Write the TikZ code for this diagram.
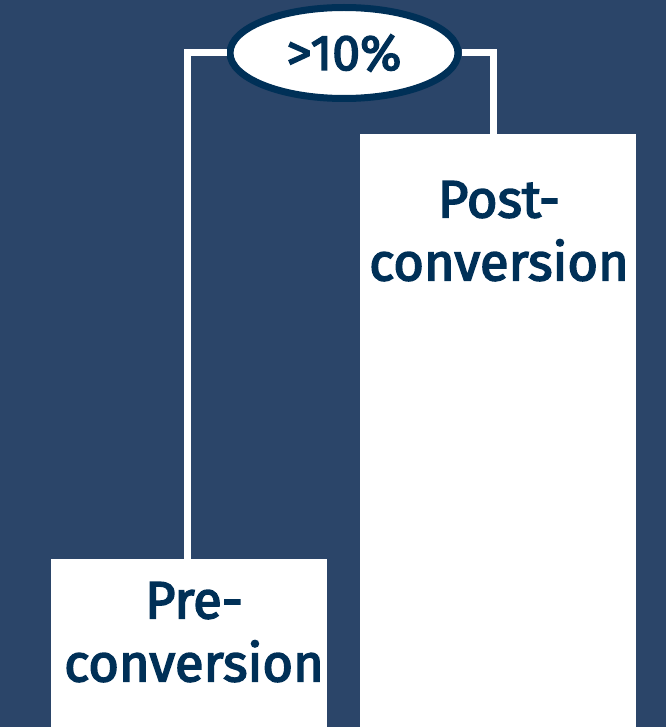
\documentclass[tikz,border=0pt]{standalone}
\usepackage{fontspec}
\setmainfont{Fira Sans}
\newfontfamily\labelfont[FakeBold=3]{Fira Sans}
\usetikzlibrary{shapes.geometric}

\definecolor{bgblue}{RGB}{43,69,105}
\definecolor{navy}{RGB}{0,48,87}

\tikzset{
  bar/.style={fill=white, draw=none, inner sep=0pt, anchor=south},
  barlabel/.style={text=navy, align=center, anchor=north, inner sep=0pt,
    font=\labelfont\fontsize{52.5}{63}\selectfont},
  link/.style={draw=white, line width=7pt},
}

\begin{document}
\begin{tikzpicture}[x=1pt, y=-1pt]

\fill[bgblue] (0,0) rectangle (666,727);
\useasboundingbox (0,0) rectangle (666,727);

%% Bars
\node [bar, minimum width=276pt, minimum height=168pt] (pre) at (189,727) {};
\node [bar, minimum width=276pt, minimum height=593pt] (post) at (498,727) {};

%% Bar labels
\node [barlabel] (prelabel) at (194,582) {Pre-\\conversion};
\node [barlabel] (postlabel) at (499,181) {Post-\\conversion};

%% Difference
\node [ellipse, draw=navy, fill=white, line width=7pt, inner sep=0pt,
  minimum width=228pt, minimum height=91pt, text=navy,
  font=\labelfont\fontsize{50}{50}\selectfont] (gap) at (344,53) {>10\%};

\draw [link] ([xshift=-2pt]pre.north) |- (gap.west);
\draw [link] ([xshift=-5pt]post.north) |- (gap.east);

\end{tikzpicture}
\end{document}
